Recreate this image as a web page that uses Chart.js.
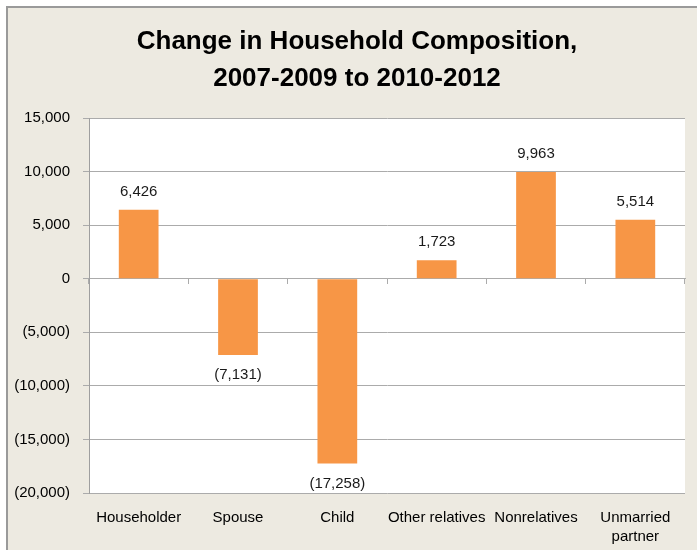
<!DOCTYPE html>
<html>
<head>
<meta charset="utf-8">
<script src="https://cdn.jsdelivr.net/npm/chart.js@4.4.1/dist/chart.umd.min.js"></script>
<style>
  html, body { margin: 0; padding: 0; background: #ffffff; }
  #wrap { width: 697px; height: 550px; position: relative; }
</style>
</head>
<body>
<div id="wrap"><canvas id="chartCanvas"></canvas></div>
<script>
const categories = ['Householder', 'Spouse', 'Child', 'Other relatives', 'Nonrelatives', ['Unmarried', 'partner']];
const changeValues = [6426, -7131, -17258, 1723, 9963, 5514];
const titleLines = ['Change in Household Composition,', '2007-2009 to 2010-2012'];
const yMin = -20000;
const yMax = 15000;
const yStep = 5000;

const FONT = '"Liberation Sans", Arial, sans-serif';
const barColor = '#F79646';
const gridColor = '#ababab';

function fmt(v) {
    const s = Math.abs(v).toLocaleString('en-US');
    return v < 0 ? '(' + s + ')' : s;
}

// beige panel with frame, white plot area, and the two-line title
const backgroundPlugin = {
    id: 'panel',
    beforeDraw(chart) {
        const ctx = chart.ctx;
        ctx.save();
        ctx.fillStyle = '#EDEAE1';
        ctx.fillRect(7, 7, chart.width - 7, chart.height - 7);
        ctx.strokeStyle = '#9a9a9a';
        ctx.lineWidth = 2;
        ctx.beginPath();
        ctx.moveTo(7, chart.height);
        ctx.lineTo(7, 7);
        ctx.lineTo(chart.width, 7);
        ctx.stroke();
        const a = chart.chartArea;
        ctx.fillStyle = '#ffffff';
        ctx.fillRect(a.left, a.top, a.right - a.left, a.bottom - a.top);

        // title (centred like the Excel original, not over the plot)
        ctx.font = 'bold 26px ' + FONT;
        ctx.fillStyle = '#000000';
        ctx.textAlign = 'center';
        ctx.textBaseline = 'middle';
        titleLines.forEach((line, i) => ctx.fillText(line, 357, 42 + i * 37));
        ctx.restore();
    }
};

// value labels above / below bars
const labelPlugin = {
    id: 'valueLabels',
    afterDatasetsDraw(chart) {
        const ctx = chart.ctx;
        const meta = chart.getDatasetMeta(0);
        ctx.save();
        ctx.font = '15px ' + FONT;
        ctx.fillStyle = '#1a1a1a';
        ctx.textAlign = 'center';
        ctx.textBaseline = 'middle';
        meta.data.forEach((bar, i) => {
            const v = changeValues[i];
            const y = v >= 0 ? bar.y - 18 : bar.y + 20;
            ctx.fillText(fmt(v), bar.x, y);
        });
        ctx.restore();
    }
};

const ctx = document.getElementById('chartCanvas').getContext('2d');
const chart = new Chart(ctx, {
    type: 'bar',
    data: {
        labels: categories,
        datasets: [{
            label: 'Change',
            data: changeValues,
            backgroundColor: barColor,
            borderWidth: 0,
            barPercentage: 0.4,
            categoryPercentage: 1.0,
            xAxisID: 'x'
        }]
    },
    options: {
        responsive: true,
        maintainAspectRatio: false,
        animation: false,
        layout: { padding: { left: 12, right: 12, top: 118, bottom: 0 } },
        plugins: {
            legend: { display: false },
            tooltip: { enabled: false },
            title: { display: false }
        },
        scales: {
            x: {
                position: 'bottom',
                grid: { display: false, drawTicks: false },
                border: { display: false },
                ticks: {
                    color: '#000000',
                    padding: 15,
                    maxRotation: 0,
                    autoSkip: false,
                    font: { family: FONT, size: 15, lineHeight: 1.3 }
                },
                afterFit(scale) { scale.height = 57; }
            },
            x0: {
                type: 'category',
                position: { y: 0 },
                offset: true,
                grid: { display: true, drawOnChartArea: false, drawTicks: true, tickLength: 5, offset: true, color: gridColor },
                border: { display: true, color: gridColor },
                ticks: { display: false }
            },
            y: {
                min: yMin,
                max: yMax,
                grid: { color: gridColor, tickLength: 6 },
                border: { display: true, color: '#9f9f9f' },
                ticks: {
                    stepSize: yStep,
                    padding: 13,
                    color: '#000000',
                    font: { family: FONT, size: 15 },
                    callback: v => fmt(v)
                },
                afterFit(scale) { scale.width = 77; }
            }
        }
    },
    plugins: [backgroundPlugin, labelPlugin]
});
</script>
</body>
</html>
